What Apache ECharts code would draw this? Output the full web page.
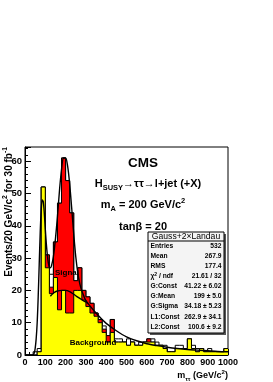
<!DOCTYPE html>
<html>
<head>
<meta charset="utf-8">
<script src="https://cdn.jsdelivr.net/npm/echarts@6/dist/echarts.min.js"></script>
<style>
html,body{margin:0;padding:0;background:#fff;}
#c{width:273px;height:382px;}
</style>
</head>
<body>
<div id="c"></div>
<script>
// ---- data ----
const binLow = [0,20,40,60,80,100,120,140,160,180,200,220,240,260,280,300,320,340,360,380,
  400,420,440,460,480,500,520,540,560,580,600,620,640,660,680,700,720,740,760,780,
  800,820,840,860,880,900,920,940,960,980];
const binHigh = 1000;
const totalHist = [0,0,1,2,52,31,25,35,47,61,54,44,23,27,20,18,16,13,11,9,
  6,11,5,5,4,5,4,3,4,4,5,5,4,3,3,1,1,3,3,2,5,3,2,2,1,2,1,1,1,2];
const signalHist = [0,0,0,1,52,31,21,35,47,61,54,44,23,27,20,18,16,13,11,8,
  6,11,4,4,4,3,4,3,3,4,5,4,3,3,2,1,1,2,2,2,5,2,1,2,1,1,1,1,1,2];
const backgroundHist = [0,0,0,1,52,27,19,24,14,20,13,13,20,20,17,15,13,12,10,7,
  4,7,4,4,4,3,4,3,3,4,4,4,3,3,2,1,1,2,2,2,5,2,1,2,1,1,1,1,1,2];
const fitX = [40,45,50,55,60,65,70,75,80,85,90,95,100,105,110,115,120,125,130,140,150,160,170,180,190,200,210,220,230,240,250,260,270,280,290,300,320,340,360,380,400,450,500,550,600,650,700,750,800,850,900,950,1000];
const fitY = [0,0.5,2,5,10,18,28,38,45,48,47.5,44,39,34.5,31,28.5,27.2,27,27.5,30.5,36,43,51,57.5,61,61,58.5,53,45.5,37.5,30.5,25.5,22,19.8,18.2,16.8,15.2,13.7,12.3,11,9.8,7.5,5.6,4.4,3.5,2.9,2.4,2.0,1.7,1.5,1.3,1.1,1.0];
const bkgFitX = [125,135,145,160,180,200,220,240,260,280,300,310];
const bkgFitY = [18.2,18.9,19.4,19.8,20,20,19.6,18.8,17.9,17.1,16.4,15.9];
const xTicks = [0,100,200,300,400,500,600,700,800,900,1000];
const yTicks = [0,10,20,30,40,50,60];
const statLabels = ['{n|Entries}','{n|Mean}','{n|RMS}','{n|\u03c7}{sup|2}{n| / ndf}','{n|G:Const}','{n|G:Mean}','{n|G:Sigma}','{n|L1:Const}','{n|L2:Const}'];
const statValues = ['532','267.9','177.4','21.61 / 32','41.22 \u00b1 6.02','199 \u00b1 5.0','34.18 \u00b1 5.23','262.9 \u00b1 34.1','100.6 \u00b1 9.2'];

const FF = '"Liberation Sans", Arial, Helvetica, sans-serif';

function hist(vals){
  const d = binLow.map((x,i)=>[x, vals[i]]);
  d.push([binHigh, vals[vals.length-1]]);
  return d;
}
function pts(xs, ys){ return xs.map((x,i)=>[x, ys[i]]); }

const chart = echarts.init(document.getElementById('c'), null, {renderer:'canvas'});

function rich(size){
  return {
    n:{fontSize:size, fontWeight:'bold', fontFamily:FF, color:'#000', lineHeight:size+4},
    sub:{fontSize:size*0.68, fontWeight:'bold', fontFamily:FF, color:'#000', verticalAlign:'bottom', lineHeight:size*0.68},
    sup:{fontSize:size*0.68, fontWeight:'bold', fontFamily:FF, color:'#000', verticalAlign:'top', lineHeight:size*0.68}
  };
}

const boxL = 148, boxR = 224, boxT = 232, boxB = 333;
const graphics = [
  {type:'text', x:9, y:147, rotation:Math.PI/2, z:10,
   style:{text:'{n|Events/20 GeV/c}{sup|2}{n| for 30 fb}{sup|-1}', rich:rich(10), align:'right', verticalAlign:'middle'}},
  {type:'text', x:228, y:376, z:10,
   style:{text:'{n|m}{sub|\u03c4\u03c4}{n| (GeV/c}{sup|2}{n|)}', rich:rich(9), align:'right', verticalAlign:'middle'}},
  {type:'text', x:143, y:163, z:10,
   style:{text:'CMS', font:'bold 13.5px '+FF, fill:'#000', align:'center', verticalAlign:'middle'}},
  {type:'text', x:148, y:184, z:10,
   style:{text:'{n|H}{sub|SUSY}{n|\u2192\u03c4\u03c4\u2192l+jet (+X)}', rich:rich(11), align:'center', verticalAlign:'middle'}},
  {type:'text', x:143, y:205, z:10,
   style:{text:'{n|m}{sub|A}{n| = 200 GeV/c}{sup|2}', rich:rich(11), align:'center', verticalAlign:'middle'}},
  {type:'text', x:143, y:227, z:10,
   style:{text:'{n|tan\u03b2 = 20}', rich:rich(11), align:'center', verticalAlign:'middle'}},
  {type:'text', x:67, y:273, z:10,
   style:{text:'Signal', font:'bold 8px '+FF, fill:'#000', align:'center', verticalAlign:'middle'}},
  {type:'text', x:93, y:343, z:10,
   style:{text:'Background', font:'bold 8px '+FF, fill:'#000', align:'center', verticalAlign:'middle'}},
  {type:'rect', z:20, shape:{x:boxL+2, y:boxT+2, width:boxR-boxL, height:boxB-boxT}, style:{fill:'#555'}},
  {type:'rect', z:21, shape:{x:boxL, y:boxT, width:boxR-boxL, height:boxB-boxT}, style:{fill:'#f4f4f4', stroke:'#000', lineWidth:1}},
  {type:'line', z:22, shape:{x1:boxL, y1:241, x2:boxR, y2:241}, style:{stroke:'#000', lineWidth:1}},
  {type:'text', z:23, x:(boxL+boxR)/2, y:236.5,
   style:{text:'Gauss+2\u00d7Landau', font:'8.6px '+FF, fill:'#000', align:'center', verticalAlign:'middle'}}
];
statLabels.forEach((l,i)=>{
  const y = 246 + i*10.1;
  graphics.push({type:'text', z:23, x:150.5, y:y,
    style:{text:l, rich:{
      n:{fontSize:6.7, fontWeight:'bold', fontFamily:FF, color:'#000', lineHeight:9},
      sup:{fontSize:5, fontWeight:'bold', fontFamily:FF, color:'#000', verticalAlign:'top', lineHeight:5}
    }, align:'left', verticalAlign:'middle'}});
  graphics.push({type:'text', z:23, x:221.5, y:y,
    style:{text:statValues[i], font:'bold 6.7px '+FF, fill:'#000', align:'right', verticalAlign:'middle'}});
});

const lineBase = {type:'line', symbol:'none', silent:true, animation:false, clip:true};

chart.setOption({
  animation:false,
  backgroundColor:'#fff',
  grid:{left:25, right:45, top:147, bottom:27, show:true, borderColor:'#000', borderWidth:1, backgroundColor:'transparent'},
  xAxis:{type:'value', min:xTicks[0], max:xTicks[xTicks.length-1], interval:100,
    axisLine:{show:true, lineStyle:{color:'#000', width:1}},
    axisTick:{show:true, inside:true, length:6, lineStyle:{color:'#000'}},
    minorTick:{show:true, splitNumber:5, length:3, lineStyle:{color:'#000'}},
    splitLine:{show:false},
    axisLabel:{color:'#000', fontWeight:'bold', fontSize:9, fontFamily:FF, margin:3,
      formatter:v=> xTicks.indexOf(v)>=0 ? String(v) : ''}},
  yAxis:{type:'value', min:0, max:64.4, interval:10,
    axisLine:{show:true, lineStyle:{color:'#000', width:1}},
    axisTick:{show:true, inside:true, length:6, lineStyle:{color:'#000'}},
    minorTick:{show:true, splitNumber:5, length:3, lineStyle:{color:'#000'}},
    splitLine:{show:false},
    axisLabel:{color:'#000', fontWeight:'bold', fontSize:9.5, fontFamily:FF, margin:3,
      formatter:v=> yTicks.indexOf(v)>=0 ? String(v) : ''}},
  series:[
    Object.assign({}, lineBase, {name:'total', step:'end', data:hist(totalHist), z:1,
      lineStyle:{color:'#000', width:1}, areaStyle:{color:'#fff', opacity:1}}),
    Object.assign({}, lineBase, {name:'signal', step:'end', data:hist(signalHist), z:2,
      lineStyle:{color:'#000', width:1}, areaStyle:{color:'#ff0000', opacity:1}}),
    Object.assign({}, lineBase, {name:'background', step:'end', data:hist(backgroundHist), z:3,
      lineStyle:{color:'#000', width:1}, areaStyle:{color:'#ffff00', opacity:1}}),
    Object.assign({}, lineBase, {name:'bkgfit', smooth:0.3, data:pts(bkgFitX,bkgFitY), z:4,
      lineStyle:{color:'#000', width:1.4}}),
    Object.assign({}, lineBase, {name:'fit', smooth:0.3, data:pts(fitX,fitY), z:5,
      lineStyle:{color:'#000', width:1.4}})
  ],
  graphic:graphics
});
</script>
</body>
</html>
